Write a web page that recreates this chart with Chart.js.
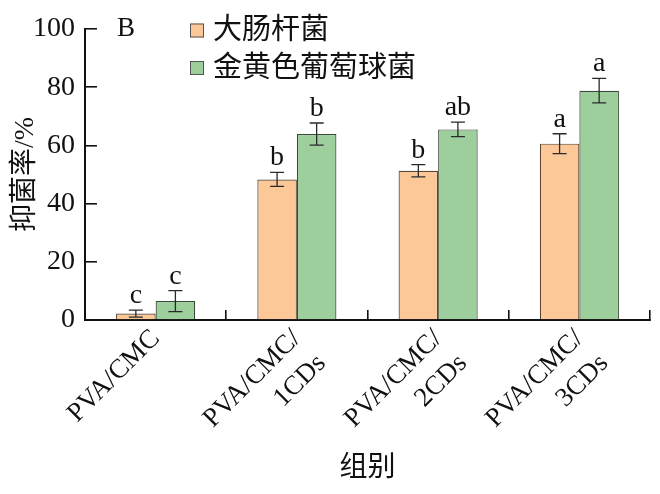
<!DOCTYPE html>
<html>
<head>
<meta charset="utf-8">
<script src="https://cdn.jsdelivr.net/npm/chart.js@4/dist/chart.umd.min.js"></script>
<style>
html,body{margin:0;padding:0;background:#fff;}
#wrap{width:660px;height:494px;position:relative;}
</style>
</head>
<body>
<div id="wrap"><canvas id="c" width="660" height="494"></canvas></div>
<script>
const categories = [["PVA/CMC"], ["PVA/CMC/", "1CDs"], ["PVA/CMC/", "2CDs"], ["PVA/CMC/", "3CDs"]];
const seriesNames = ["大肠杆菌", "金黄色葡萄球菌"];
const ecoliValues = [2.2, 48.3, 51.3, 60.6];
const ecoliErrors = [1.2, 2.4, 2.1, 3.4];
const ecoliLetters = ["c", "b", "b", "a"];
const saureusValues = [6.5, 63.9, 65.5, 78.8];
const saureusErrors = [3.6, 3.8, 2.5, 4.2];
const saureusLetters = ["c", "b", "ab", "a"];
const yTicks = [0, 20, 40, 60, 80, 100];
const panelLabel = "B";
const yTitle = "抑菌率/%";
const xTitle = "组别";

const FONT = "'Liberation Serif', 'Noto Sans CJK SC', serif";

const errorPlugin = {
  id: 'errs',
  afterDatasetsDraw(chart) {
    const ctx = chart.ctx;
    const y = chart.scales.y;
    chart.data.datasets.forEach((ds, di) => {
      const meta = chart.getDatasetMeta(di);
      meta.data.forEach((bar, i) => {
        const v = ds.data[i], e = ds.errors[i];
        const yt = y.getPixelForValue(v + e), yb = y.getPixelForValue(v - e);
        const x = bar.x;
        ctx.save();
        ctx.strokeStyle = '#2a2a2a';
        ctx.lineWidth = 1.3;
        ctx.beginPath();
        ctx.moveTo(x, yt); ctx.lineTo(x, yb);
        ctx.moveTo(x - 7, yt); ctx.lineTo(x + 7, yt);
        ctx.moveTo(x - 7, yb); ctx.lineTo(x + 7, yb);
        ctx.stroke();
        ctx.fillStyle = '#111';
        ctx.font = "28px " + FONT;
        ctx.textAlign = 'center';
        ctx.textBaseline = 'alphabetic';
        ctx.fillText(ds.letters[i], x, yt - 7);
        ctx.restore();
      });
    });
  },
  afterDraw(chart) {
    const ctx = chart.ctx;
    ctx.save();
    ctx.fillStyle = '#111';
    ctx.font = "27px " + FONT;
    ctx.textAlign = 'left';
    ctx.textBaseline = 'alphabetic';
    ctx.fillText(panelLabel, 117, 36);
    // legend
    chart.data.datasets.forEach((ds, di) => {
      const cy = 30.5 + di * 37.5;
      ctx.fillStyle = ds.backgroundColor;
      ctx.fillRect(190, cy - 7, 14, 14);
      ctx.strokeStyle = '#555';
      ctx.lineWidth = 1;
      ctx.strokeRect(190.5, cy - 6.5, 13, 13);
      ctx.fillStyle = '#111';
      ctx.font = "29px " + FONT;
      ctx.textBaseline = 'middle';
      ctx.fillText(ds.label, 213, cy + 1);
    });
    ctx.restore();
  }
};

new Chart(document.getElementById('c'), {
  type: 'bar',
  data: {
    labels: categories,
    datasets: [
      { label: seriesNames[0], data: ecoliValues, errors: ecoliErrors, letters: ecoliLetters,
        backgroundColor: '#fcc898', borderColor: '#5a4530', borderWidth: 1.2 },
      { label: seriesNames[1], data: saureusValues, errors: saureusErrors, letters: saureusLetters,
        backgroundColor: '#9ccf9b', borderColor: '#3a4a3a', borderWidth: 1.2 }
    ]
  },
  options: {
    responsive: false,
    animation: false,
    devicePixelRatio: 1,
    layout: { padding: { top: 29, right: 10, left: 0, bottom: 0 } },
    plugins: { legend: { display: false }, tooltip: { enabled: false } },
    datasets: { bar: { categoryPercentage: 0.56, barPercentage: 1.0 } },
    scales: {
      x: {
        offset: true,
        grid: { display: true, drawOnChartArea: false, drawTicks: true, tickLength: -10, color: '#111', lineWidth: 1.6, offset: true },
        border: { display: true, color: '#111', width: 2 },
        ticks: { color: '#111', font: { family: FONT, size: 27, lineHeight: 1.3 }, minRotation: 45, maxRotation: 45, padding: 12, autoSkip: false },
        title: { display: true, text: xTitle, color: '#111', font: { family: FONT, size: 28, lineHeight: 1.2 }, padding: { top: 0, bottom: 9 } },
        afterFit(s) { s.height = 174; s.paddingLeft = 0; s.paddingRight = 0; }
      },
      y: {
        min: 0, max: 100,
        afterBuildTicks(s) { s.ticks = yTicks.map(v => ({ value: v })); },
        grid: { display: true, drawOnChartArea: false, drawTicks: true, tickLength: -12, color: '#111', lineWidth: 1.6 },
        border: { display: true, color: '#111', width: 2 },
        ticks: { color: '#111', font: { family: FONT, size: 28 }, padding: 22 },
        title: { display: true, text: yTitle, color: '#111', font: { family: FONT, size: 28, lineHeight: 1.2 }, padding: { top: 9, bottom: 0 } },
        afterFit(s) { s.width = 85; s.paddingTop = 0; s.paddingBottom = 0; }
      }
    }
  },
  plugins: [errorPlugin]
});
</script>
</body>
</html>
